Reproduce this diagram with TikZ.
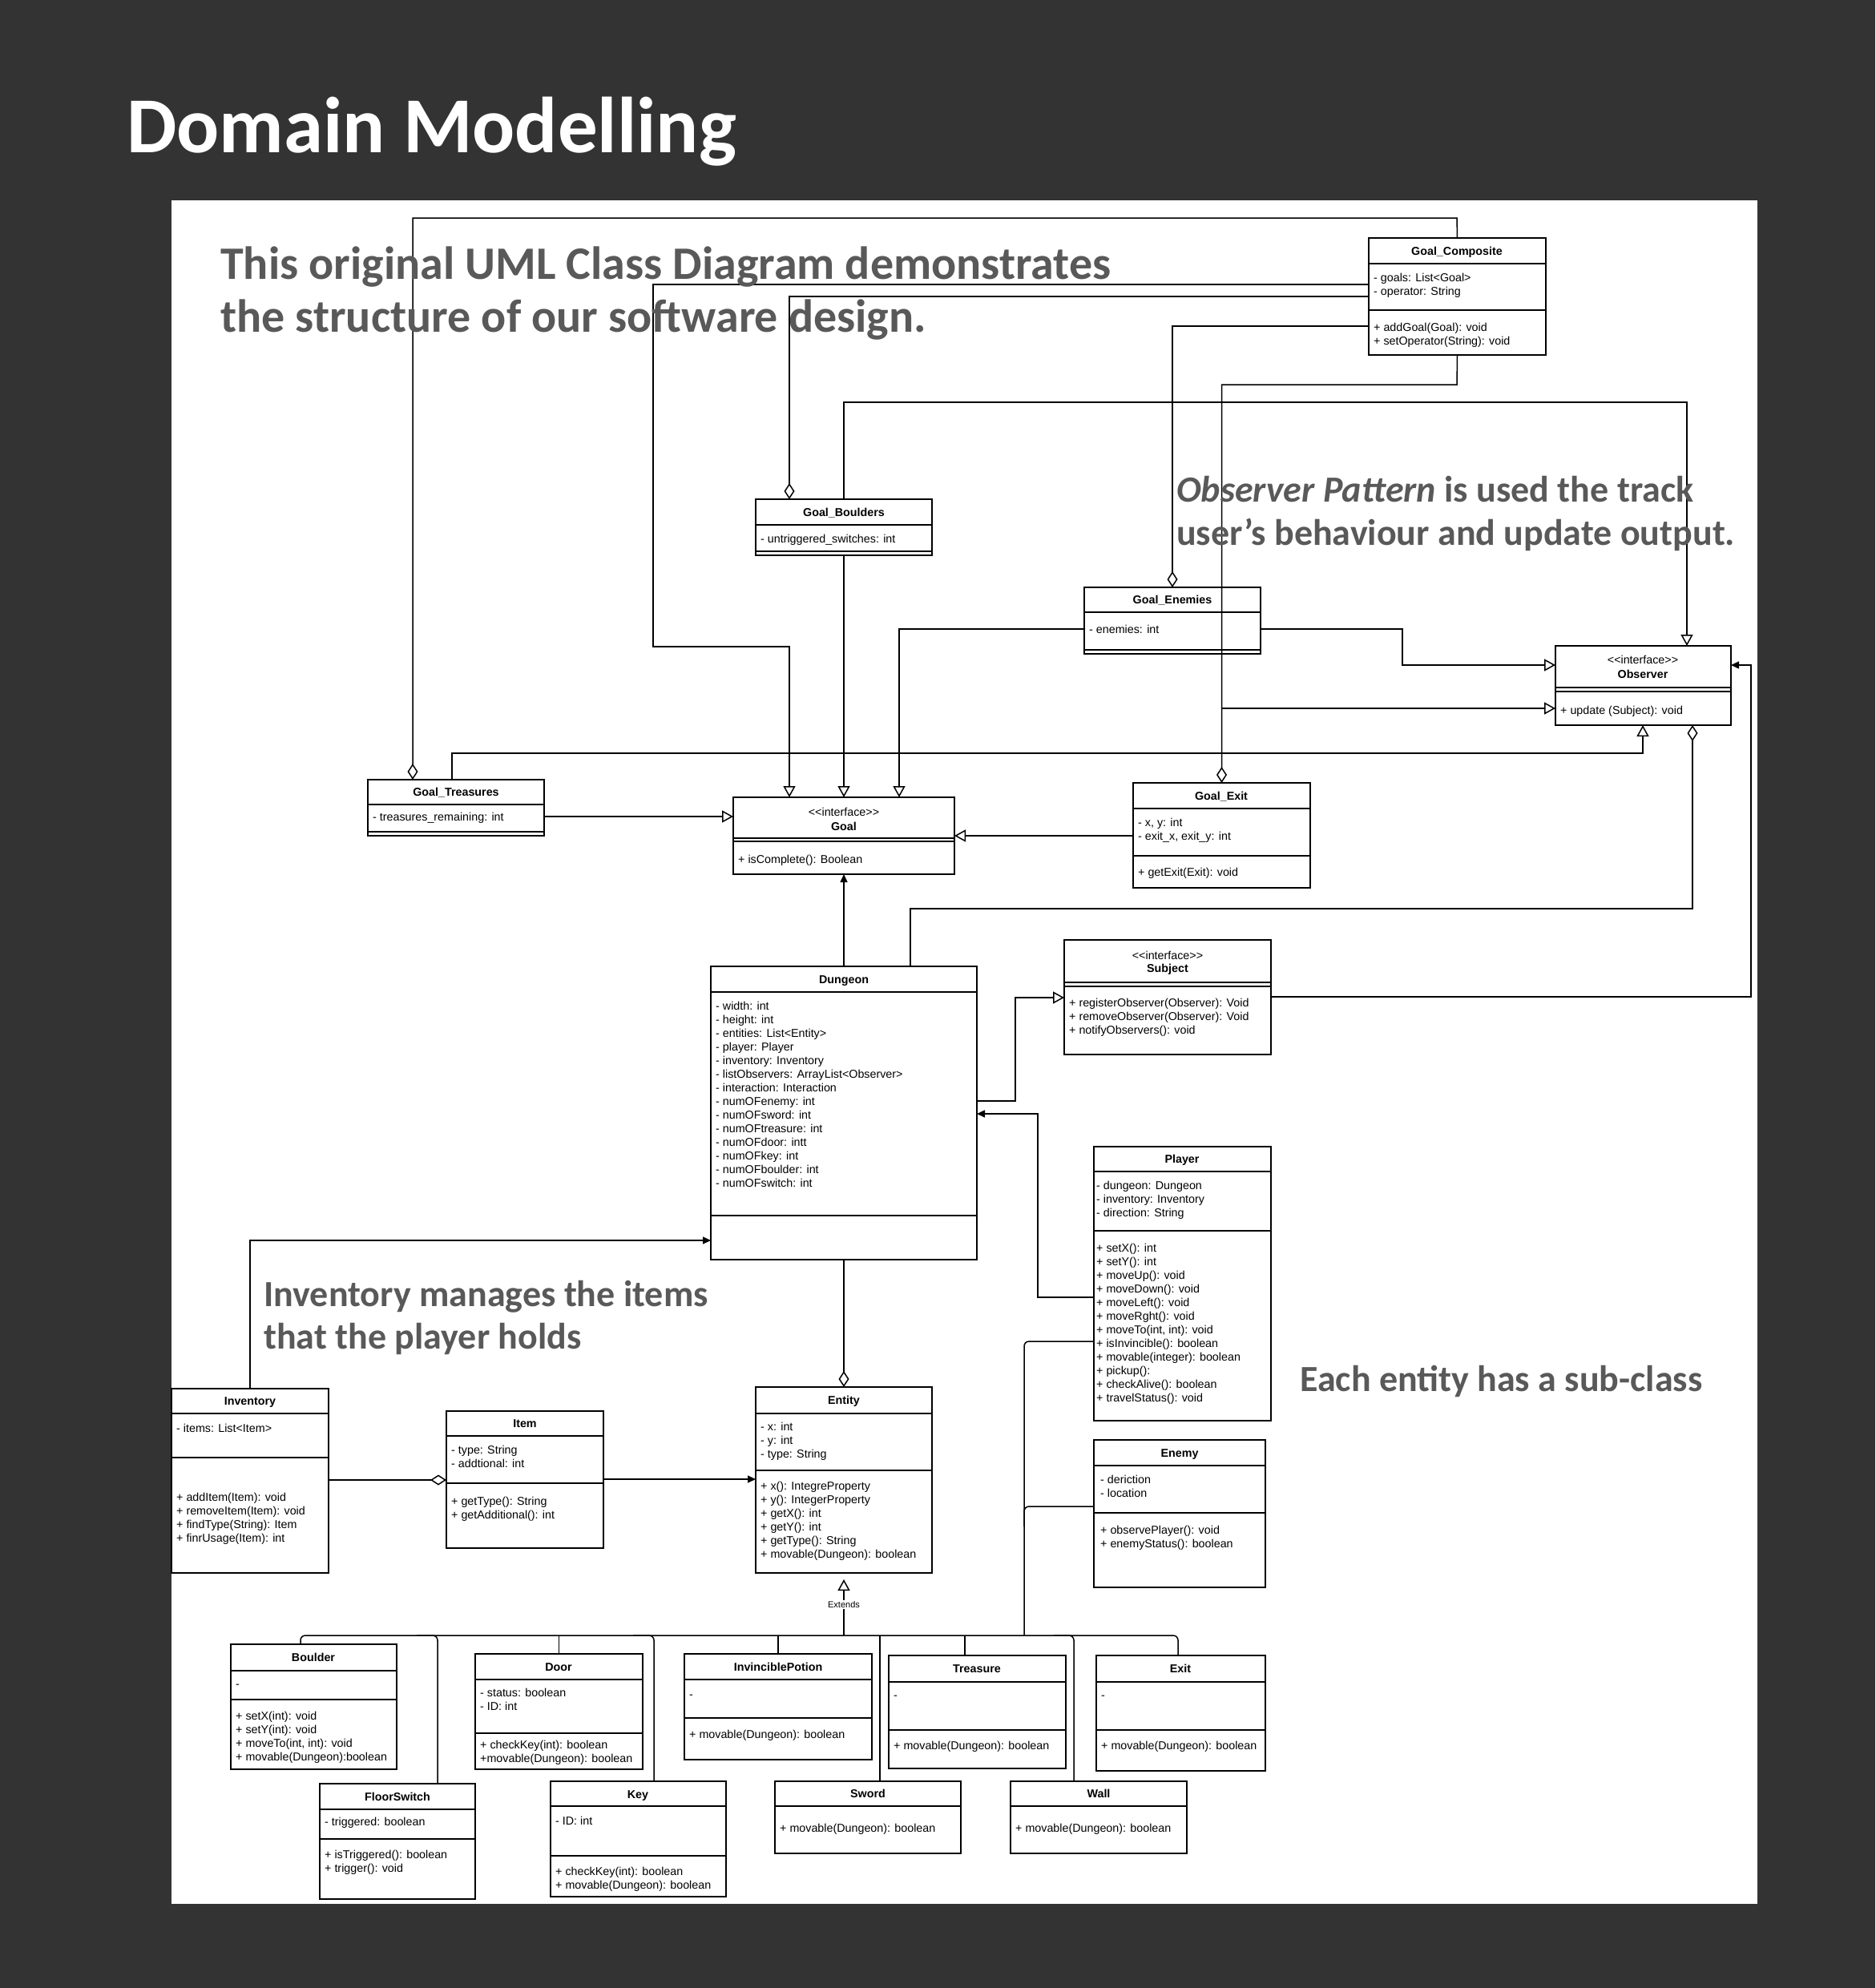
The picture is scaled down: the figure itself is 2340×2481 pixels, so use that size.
\documentclass[tikz,border=0pt]{standalone}
\usepackage{fontspec}
\setmainfont{Liberation Sans}[Ligatures=TeXOff]
\newfontfamily\calfont{Carlito}
\usetikzlibrary{arrows.meta}
\definecolor{bgdark}{HTML}{333333}
\definecolor{annot}{HTML}{595959}
\newcommand\tf{\fontsize{14.3}{17}\selectfont}
\newcommand\hf{\fontsize{14.3}{17}\selectfont\bfseries}
\newcommand\ml[1]{\begin{tabular}[t]{@{}l@{}}#1\end{tabular}}
\begin{document}
\begin{tikzpicture}[x=1pt,y=-1pt,
  cls/.style={draw=black, line width=1.5pt, inner sep=0pt, outer sep=0pt, anchor=north west, fill=white},
  sepl/.style={line width=1.5pt},
  hd/.style={anchor=base, inner sep=0pt, font=\hf},
  st/.style={anchor=base, inner sep=0pt, font=\tf},
  tx/.style={anchor=base west, inner sep=0pt, font=\tf},
  conn/.style={line width=1.5pt, black},
  real/.style={conn, -{Triangle[open, length=14pt, width=15pt]}},
  agg/.style={conn, {Diamond[open, length=20pt, width=13pt]}-},
  assoc/.style={conn, -{Triangle[length=10pt, width=9pt]}},
  ann/.style={anchor=base west, inner sep=0pt, text=annot},
]
\useasboundingbox (0,0) rectangle (2340,2481);
\fill[bgdark] (0,0) rectangle (2340,2481);
\fill[white] (214,250) rectangle (2193,2376);

\node[anchor=base west, inner sep=0pt, text=white, font=\calfont\bfseries\fontsize{99}{100}\selectfont] (title) at (158,190) {Domain Modelling};

% ---------- boxes ----------
\node[cls, minimum width=221pt, minimum height=146pt] (gc) at (1708,297) {};
\node[cls, minimum width=220pt, minimum height=70pt] (gbo) at (943,623) {};
\node[cls, minimum width=220pt, minimum height=83pt] (ge) at (1353,733) {};
\node[cls, minimum width=219pt, minimum height=99pt] (obs) at (1941,806) {};
\node[cls, minimum width=220pt, minimum height=70pt] (gt) at (459,973) {};
\node[cls, minimum width=276pt, minimum height=96pt] (goal) at (915,995) {};
\node[cls, minimum width=221pt, minimum height=131pt] (gx) at (1414,977) {};
\node[cls, minimum width=258pt, minimum height=143pt] (sub) at (1328,1173) {};
\node[cls, minimum width=332pt, minimum height=366pt] (dun) at (887,1206) {};
\node[cls, minimum width=221pt, minimum height=342pt] (pl) at (1365,1431) {};
\node[cls, minimum width=214pt, minimum height=184pt] (en) at (1365,1797) {};
\node[cls, minimum width=196pt, minimum height=230pt] (inv) at (214,1733) {};
\node[cls, minimum width=196pt, minimum height=171pt] (it) at (557,1761) {};
\node[cls, minimum width=220pt, minimum height=232pt] (ent) at (943,1731) {};
\node[cls, minimum width=207pt, minimum height=156pt] (bo) at (288,2052) {};
\node[cls, minimum width=209pt, minimum height=144pt] (dr) at (593,2064) {};
\node[cls, minimum width=234pt, minimum height=132pt] (ip) at (854,2064) {};
\node[cls, minimum width=221pt, minimum height=141pt] (tr) at (1109,2066) {};
\node[cls, minimum width=211pt, minimum height=144pt] (ex) at (1368,2066) {};
\node[cls, minimum width=194pt, minimum height=144pt] (fs) at (399,2226) {};
\node[cls, minimum width=219pt, minimum height=144pt] (ky) at (687,2223) {};
\node[cls, minimum width=232pt, minimum height=90pt] (sw) at (967,2223) {};
\node[cls, minimum width=220pt, minimum height=90pt] (wl) at (1261,2223) {};

% ---------- separators ----------
\foreach \n/\y in {gc/329,gc/387,gbo/655,gbo/688,ge/764,ge/811,obs/858,obs/863,gt/1004,gt/1038,
  goal/1046,goal/1050,gx/1009,gx/1068,sub/1226,sub/1231,dun/1238,dun/1517,pl/1462,pl/1536,
  en/1829,en/1888,inv/1764,inv/1819,it/1792,it/1851,ent/1764,ent/1835,bo/2085,bo/2121,
  dr/2096,dr/2163,ip/2096,ip/2144,tr/2099,tr/2159,ex/2099,ex/2159,fs/2258,fs/2295,
  ky/2254,ky/2316,sw/2254,wl/2254}
  \draw[sepl] (\n.west |- 0,\y) -- (\n.east |- 0,\y);

% ---------- texts ----------
\node[hd] (gch) at (1818,318) {Goal\_Composite};
\node[tx] (gca) at (1714,351) {\ml{- goals: List<Goal>\\- operator: String}};
\node[tx] (gcm) at (1714,413) {\ml{+ addGoal(Goal): void\\+ setOperator(String): void}};

\node[hd] (gboh) at (1053,644) {Goal\_Boulders};
\node[tx] (gboa) at (949,677) {- untriggered\_switches: int};

\node[hd] (geh) at (1463,753) {Goal\_Enemies};
\node[tx] (gea) at (1359,790) {- enemies: int};

\node[st] (obss) at (2050,828) {<<interface>>};
\node[hd] (obsh) at (2050,846) {Observer};
\node[tx] (obsm) at (1947,891) {+ update (Subject): void};

\node[hd] (gth) at (569,993) {Goal\_Treasures};
\node[tx] (gta) at (465,1024) {- treasures\_remaining: int};

\node[st] (goals) at (1053,1018) {<<interface>>};
\node[hd] (goalh) at (1053,1036) {Goal};
\node[tx] (goalm) at (921,1077) {+ isComplete(): Boolean};

\node[hd] (gxh) at (1524,998) {Goal\_Exit};
\node[tx] (gxa) at (1420,1031) {\ml{- x, y: int\\- exit\_x, exit\_y: int}};
\node[tx] (gxm) at (1420,1093) {+ getExit(Exit): void};

\node[st] (subs) at (1457,1197) {<<interface>>};
\node[hd] (subh) at (1457,1213) {Subject};
\node[tx] (subm) at (1334,1256) {\ml{+ registerObserver(Observer): Void\\+ removeObserver(Observer): Void\\+ notifyObservers(): void}};

\node[hd] (dunh) at (1053,1227) {Dungeon};
\node[tx] (duna) at (893,1260) {\ml{- width: int\\- height: int\\- entities: List<Entity>\\- player: Player\\- inventory: Inventory\\- listObservers: ArrayList<Observer>\\- interaction: Interaction\\- numOFenemy: int\\- numOFsword: int\\- numOFtreasure: int\\- numOFdoor: intt\\- numOFkey: int\\- numOFboulder: int\\- numOFswitch: int}};

\node[hd] (plh) at (1475,1451) {Player};
\node[tx] (pla) at (1368,1484) {\ml{- dungeon: Dungeon\\- inventory: Inventory\\- direction: String}};
\node[tx] (plm) at (1368,1562) {\ml{+ setX(): int\\+ setY(): int\\+ moveUp(): void\\+ moveDown(): void\\+ moveLeft(): void\\+ moveRght(): void\\+ moveTo(int, int): void\\+ isInvincible(): boolean\\+ movable(integer): boolean\\+ pickup():\\+ checkAlive(): boolean\\+ travelStatus(): void}};

\node[hd] (enh) at (1472,1818) {Enemy};
\node[tx] (ena) at (1373,1851) {\ml{- deriction\\- location}};
\node[tx] (enm) at (1373,1914) {\ml{+ observePlayer(): void\\+ enemyStatus(): boolean}};

\node[hd] (invh) at (312,1753) {Inventory};
\node[tx] (inva) at (220,1787) {- items: List<Item>};
\node[tx] (invm) at (220,1873) {\ml{+ addItem(Item): void\\+ removeItem(Item): void\\+ findType(String): Item\\+ finrUsage(Item): int}};

\node[hd] (ith) at (655,1781) {Item};
\node[tx] (ita) at (563,1814) {\ml{- type: String\\- addtional: int}};
\node[tx] (itm) at (563,1878) {\ml{+ getType(): String\\+ getAdditional(): int}};

\node[hd] (enth) at (1053,1752) {Entity};
\node[tx] (enta) at (949,1785) {\ml{- x: int\\- y: int\\- type: String}};
\node[tx] (entm) at (949,1859) {\ml{+ x(): IntegreProperty\\+ y(): IntegerProperty\\+ getX(): int\\+ getY(): int\\+ getType(): String\\+ movable(Dungeon): boolean}};

\node[hd] (boh) at (391,2073) {Boulder};
\node[tx] (boa) at (294,2106) {-};
\node[tx] (bom) at (294,2146) {\ml{+ setX(int): void\\+ setY(int): void\\+ moveTo(int, int): void\\+ movable(Dungeon):boolean}};

\node[hd] (drh) at (697,2085) {Door};
\node[tx] (dra) at (599,2117) {\ml{- status: boolean\\- ID: int}};
\node[tx] (drm) at (599,2182) {\ml{+ checkKey(int): boolean\\+movable(Dungeon): boolean}};

\node[hd] (iph) at (971,2085) {InvinciblePotion};
\node[tx] (ipa) at (860,2119) {-};
\node[tx] (ipm) at (860,2169) {+ movable(Dungeon): boolean};

\node[hd] (trh) at (1219,2087) {Treasure};
\node[tx] (tra) at (1115,2120) {-};
\node[tx] (trm) at (1115,2183) {+ movable(Dungeon): boolean};

\node[hd] (exh) at (1473,2087) {Exit};
\node[tx] (exa) at (1374,2120) {-};
\node[tx] (exm) at (1374,2183) {+ movable(Dungeon): boolean};

\node[hd] (fsh) at (496,2247) {FloorSwitch};
\node[tx] (fsa) at (405,2278) {- triggered: boolean};
\node[tx] (fsm) at (405,2319) {\ml{+ isTriggered(): boolean\\+ trigger(): void}};

\node[hd] (kyh) at (796,2244) {Key};
\node[tx] (kya) at (693,2277) {- ID: int};
\node[tx] (kym) at (693,2340) {\ml{+ checkKey(int): boolean\\+ movable(Dungeon): boolean}};

\node[hd] (swh) at (1083,2243) {Sword};
\node[tx] (swm) at (973,2286) {+ movable(Dungeon): boolean};

\node[hd] (wlh) at (1371,2243) {Wall};
\node[tx] (wlm) at (1267,2286) {+ movable(Dungeon): boolean};

% ---------- connectors ----------
\draw[agg] (gt.north -| 515,0) |- (1818,272) -- (gc.north);
\draw[real] (gc.west |- 0,355) -| (815,807) -| (goal.north -| 985,0);
\draw[agg] (gbo.north -| 985,0) |- (gc.west |- 0,370);
\draw[agg] (ge.north -| 1463,0) |- (gc.west |- 0,407);
\draw[agg] (gx.north) |- (1818,480) -- (gc.south);
\coordinate (j1) at (1524,884);
\draw[real] (j1) -- (obs.west |- 0,884);
\draw[real] (gbo.north) |- (2105,502) -- (obs.north -| 2105,0);
\draw[real] (gbo.south) -- (goal.north);
\draw[real] (ge.west |- 0,785) -| (goal.north -| 1122,0);
\draw[real] (ge.east |- 0,785) -| (1750,830) -- (obs.west |- 0,830);
\draw[real] (gt.east |- 0,1019) -- (goal.west |- 0,1019);
\draw[real] (gt.north -| 564,0) |- (2050,940) -- (obs.south -| 2050,0);
\draw[real] (gx.west |- 0,1043) -- (goal.east |- 0,1043);
\draw[assoc] (dun.north) -- (goal.south);
\draw[agg] (obs.south -| 2112,0) |- (1136,1134) -- (dun.north -| 1136,0);
\draw[real] (dun.east |- 0,1374) -| (1267,1245) -- (sub.west |- 0,1245);
\draw[assoc] (sub.east |- 0,1244) -| (2185,830) -- (obs.east |- 0,830);
\draw[assoc] (pl.west |- 0,1619) -| (1295,1390) -- (dun.east |- 0,1390);
\draw[assoc] (inv.north -| 312,0) |- (dun.west |- 0,1548);
\draw[agg] (ent.north) -- (dun.south);
\draw[agg] (it.west |- 0,1847) -- (inv.east |- 0,1847);
\draw[assoc] (it.east |- 0,1846) -- (ent.west |- 0,1846);

% inheritance bus
\coordinate (bus) at (1053,2041);
\draw[real] (bus) -- ([yshift=-8pt]ent.south) node[pos=0.55, fill=white, inner sep=1pt, font=\fontsize{11}{12}\selectfont] (extl) {Extends};
\draw[conn, rounded corners=6pt] (bo.north -| 375,0) |- (1470,2041) -- (ex.north -| 1470,0);
\draw[conn, rounded corners=6pt] (520,2041) -| (fs.north -| 546,0);
\draw[conn] (dr.north) -- (dr.north |- bus);
\draw[conn, rounded corners=6pt] (790,2041) -| (ky.north -| 816,0);
\draw[conn] (ip.north) -- (ip.north |- bus);
\draw[conn] (sw.north -| 1098,0) -- (1098,2041);
\draw[conn] (tr.north -| 1204,0) -- (1204,2041);
\draw[conn, rounded corners=6pt] (1315,2041) -| (wl.north -| 1340,0);
\draw[conn, rounded corners=6pt] (pl.west |- 0,1674) -| (1278,2041);
\draw[conn, rounded corners=6pt] (en.west |- 0,1880) -| (1278,1905);

% ---------- annotations ----------
\node[ann, font=\calfont\bfseries\fontsize{58}{66}\selectfont] (an1) at (275,348) {\ml{This original UML Class Diagram demonstrates\\the structure of our software design.}};
\node[ann, font=\calfont\bfseries\fontsize{46}{54}\selectfont] (an2) at (1468,626) {\ml{\textit{Observer Pattern} is used the track\\user’s behaviour and update output.}};
\node[ann, font=\calfont\bfseries\fontsize{46}{53}\selectfont] (an3) at (329,1630) {\ml{Inventory manages the items\\that the player holds}};
\node[ann, font=\calfont\bfseries\fontsize{46}{53}\selectfont] (an4) at (1622,1736) {Each entity has a sub-class};
\end{tikzpicture}
\end{document}
